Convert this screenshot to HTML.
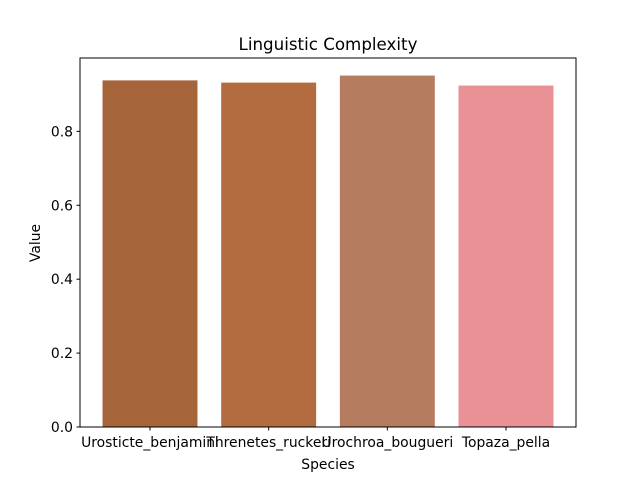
<!DOCTYPE html>
<html><head><meta charset="utf-8"><style>
body{margin:0;background:#fff;}
svg text{font-family:"DejaVu Sans","Liberation Sans",sans-serif;fill:#000;}
</style></head><body>
<svg width="640" height="480" xmlns="http://www.w3.org/2000/svg">
<rect width="640" height="480" fill="#fff"/>
<text x="328" y="50" font-size="16.7" text-anchor="middle">Linguistic Complexity</text>
<g id="bars"></g>
<rect x="80" y="58" width="496" height="369" fill="none" stroke="#000" stroke-width="1"/>
<g id="yticks"></g><g id="xticks"></g>
<text x="328" y="469" font-size="13.9" text-anchor="middle">Species</text>
<text transform="translate(40,243) rotate(-90)" font-size="13.9" text-anchor="middle">Value</text>
</svg>
<script>
const categories=["Urosticte_benjamini","Threnetes_ruckeri","Urochroa_bougueri","Topaza_pella"];
const values=[0.938,0.932,0.951,0.924];
const colors=["#a6643a","#b36b40","#b57c5f","#e99194"];
const yTicks=[0,0.2,0.4,0.6,0.8];
const yTickLabels=["0.0","0.2","0.4","0.6","0.8"];
const NS="http://www.w3.org/2000/svg";
const ymax=Math.max(...values)*1.05;
const y0=427,y1=58;
const ys=v=>y0-(v/ymax)*(y0-y1);
const n=categories.length;
const span=(n-1)+0.8;
const xl=-0.4-0.05*span, xr=n-1+0.4+0.05*span;
const xs=v=>80+(v-xl)/(xr-xl)*496;
const bars=document.getElementById('bars');
values.forEach((v,i)=>{
 const r=document.createElementNS(NS,'rect');
 r.setAttribute('x',xs(i-0.4));r.setAttribute('width',xs(i+0.4)-xs(i-0.4));
 r.setAttribute('y',ys(v));r.setAttribute('height',y0-ys(v));r.setAttribute('fill',colors[i]);
 
 
 bars.appendChild(r);
});
const yt=document.getElementById('yticks');
yTicks.forEach((t,i)=>{
 const y=ys(t);
 const l=document.createElementNS(NS,'line');
 l.setAttribute('x1',76.5);l.setAttribute('x2',80);l.setAttribute('y1',y);l.setAttribute('y2',y);l.setAttribute('stroke','#000');
 
 
 yt.appendChild(l);
 const tx=document.createElementNS(NS,'text');
 tx.setAttribute('x',73);tx.setAttribute('y',y+5);tx.setAttribute('font-size','13.9');tx.setAttribute('text-anchor','end');
 tx.textContent=yTickLabels[i];
 
 
 yt.appendChild(tx);
});
const xt=document.getElementById('xticks');
categories.forEach((c,i)=>{
 const x=xs(i);
 const l=document.createElementNS(NS,'line');
 l.setAttribute('x1',x);l.setAttribute('x2',x);l.setAttribute('y1',427);l.setAttribute('y2',430.5);l.setAttribute('stroke','#000');
 
 
 xt.appendChild(l);
 const tx=document.createElementNS(NS,'text');
 tx.setAttribute('x',x);tx.setAttribute('y',447);tx.setAttribute('font-size','13.9');tx.setAttribute('text-anchor','middle');
 tx.textContent=c;
 
 
 xt.appendChild(tx);
});
</script>
</body></html>
